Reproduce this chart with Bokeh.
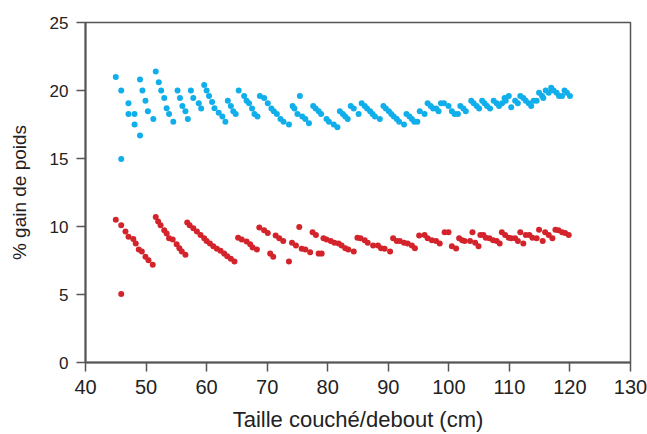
from bokeh.plotting import figure
from bokeh.models import Range1d, FixedTicker
from bokeh.embed import file_html
from bokeh.resources import INLINE

blue_x = [45.0, 45.9, 45.9, 47.1, 47.1, 48.1, 48.1, 49.0, 49.4, 49.9, 49.0, 50.3, 51.2, 51.6, 52.1, 52.5,
          53.0, 53.4, 53.8, 54.5, 55.2, 55.6, 56.0, 56.5, 56.9, 57.4, 57.8, 58.7, 59.1, 59.6, 60.0, 60.4,
          60.9, 61.3, 62.0, 62.6, 63.1, 63.5, 64.0, 64.4, 64.8, 65.3, 66.2, 66.6, 67.0, 67.5, 67.9, 68.4,
          68.8, 69.5, 70.1, 70.7, 71.1, 71.6, 72.2, 72.7, 73.6, 74.2, 74.5, 75.0, 75.4, 75.8, 76.3, 76.9,
          77.6, 78.0, 78.5, 78.9, 79.8, 80.2, 81.0, 81.6, 82.0, 82.5, 82.9, 83.3, 83.8, 84.3, 85.1, 85.6,
          86.1, 86.5, 87.0, 87.4, 87.8, 88.6, 89.2, 89.6, 90.1, 90.5, 90.9, 91.4, 91.8, 92.6, 93.0, 93.5,
          93.9, 94.3, 94.8, 95.2, 96.0, 96.5, 97.0, 97.4, 97.9, 98.3, 98.7, 99.2, 99.95, 100.5, 100.95, 101.5,
          101.9, 102.4, 102.8, 103.7, 104.1, 104.6, 105.0, 105.5, 105.9, 106.3, 106.8, 107.4, 107.9, 108.3,
          108.8, 109.2, 109.4, 109.9, 110.3, 110.95, 111.4, 111.8, 112.3, 112.7, 113.2, 113.6, 114.0, 114.5,
          114.9, 115.4, 115.6, 116.0, 116.5, 116.9, 117.3, 117.8, 118.2, 118.7, 119.1, 119.5, 120.0]
blue_y = [21.0, 20.0, 14.96, 19.06, 18.28, 18.28, 17.5, 20.8, 20.0, 19.25, 16.7, 18.47, 17.9, 21.4, 20.6, 20.0,
          19.45, 18.7, 18.28, 17.7, 20.0, 19.45, 18.86, 18.47, 17.9, 20.0, 19.45, 19.06, 18.67, 20.4, 20.0, 19.6,
          19.16, 18.7, 18.37, 18.08, 17.7, 19.25, 18.86, 18.47, 18.28, 20.0, 19.6, 19.25, 19.06, 18.67, 18.28, 18.08,
          19.6, 19.45, 19.06, 18.67, 18.47, 18.28, 17.9, 17.7, 17.5, 18.86, 18.67, 18.28, 19.6, 18.08, 17.9, 17.6,
          18.86, 18.67, 18.47, 18.28, 17.9, 17.7, 17.5, 17.3, 18.47, 18.28, 18.08, 17.9, 18.86, 18.67, 18.28, 19.06,
          18.86, 18.67, 18.47, 18.28, 18.08, 17.9, 18.86, 18.67, 18.47, 18.28, 18.08, 17.9, 17.7, 17.5, 18.28, 18.08,
          17.9, 17.7, 17.7, 18.47, 18.28, 19.06, 18.86, 18.67, 18.67, 18.47, 19.06, 19.06, 18.86, 18.47, 18.28, 18.28,
          18.86, 18.67, 18.47, 19.25, 19.06, 18.86, 18.67, 19.25, 19.06, 18.86, 18.67, 19.25, 19.06, 18.86,
          19.06, 19.45, 19.25, 19.6, 18.76, 19.25, 19.06, 19.6, 19.45, 19.25, 19.06, 18.86, 19.25, 19.25,
          19.84, 19.6, 19.45, 20.0, 19.84, 20.2, 20.0, 19.84, 19.6, 19.6, 20.0, 19.84, 19.6]

red_x = [45.0, 45.9, 45.9, 46.6, 47.1, 47.9, 48.3, 48.8, 49.3, 49.9, 50.4, 51.1, 51.6, 52.0, 52.4, 53.0,
         53.4, 53.8, 54.4, 55.05, 55.5, 55.9, 56.5, 56.8, 57.2, 57.8, 58.4, 59.0, 59.6, 60.0, 60.55, 61.1,
         61.7, 62.3, 62.9, 63.4, 64.0, 64.6, 65.2, 65.8, 66.6, 67.2, 67.6, 68.3, 68.7, 69.5, 70.1, 70.5,
         71.0, 71.4, 72.0, 72.65, 73.6, 74.1, 74.75, 75.3, 75.7, 76.3, 77.1, 77.5, 78.05, 78.5, 79.0, 79.3,
         79.8, 80.5, 81.1, 81.8, 82.3, 82.9, 83.4, 84.3, 84.9, 85.4, 86.1, 86.6, 87.5, 88.3, 88.8, 89.4,
         90.3, 90.8, 91.4, 91.9, 92.6, 93.2, 93.9, 94.4, 95.1, 96.0, 96.5, 97.2, 97.9, 98.5, 99.3, 99.95,
         100.5, 101.2, 101.7, 102.2, 102.6, 103.5, 103.9, 104.35, 104.9, 105.2, 105.7, 106.1, 106.7, 107.3,
         107.9, 108.4, 108.75, 109.3, 109.9, 110.3, 110.95, 111.4, 111.8, 112.3, 112.7, 113.3, 113.8, 114.5,
         114.9, 115.5, 115.9, 116.5, 117.1, 117.6, 118.1, 118.7, 119.2, 119.8]
red_y = [10.5, 10.1, 5.03, 9.63, 9.24, 9.09, 8.75, 8.31, 8.16, 7.77, 7.52, 7.18, 10.7, 10.36, 10.1, 9.72,
         9.48, 9.13, 9.04, 8.7, 8.4, 8.16, 7.92, 10.3, 10.1, 9.87, 9.63, 9.38, 9.13, 8.94, 8.75, 8.55,
         8.36, 8.21, 8.01, 7.82, 7.62, 7.43, 9.18, 9.04, 8.89, 8.7, 8.45, 8.31, 9.92, 9.72, 9.53, 8.01,
         7.77, 9.33, 9.13, 8.94, 7.43, 8.8, 8.6, 9.97, 8.36, 8.31, 8.11, 9.58, 9.38, 8.01, 8.01, 9.13,
         9.04, 8.94, 8.8, 8.75, 8.6, 8.4, 8.31, 8.16, 9.18, 9.13, 8.99, 8.8, 8.6, 8.6, 8.4, 8.36,
         8.16, 9.13, 8.94, 8.94, 8.8, 8.75, 8.6, 8.4, 9.33, 9.38, 9.13, 8.99, 8.94, 8.75, 9.58, 9.58,
         8.55, 8.38, 9.13, 8.99, 8.94, 8.94, 9.58, 8.8, 8.55, 9.38, 9.38, 9.18, 9.13, 8.99,
         8.94, 8.75, 9.58, 9.38, 9.18, 9.13, 9.13, 8.94, 9.58, 8.75, 9.38, 9.38, 9.18, 9.13,
         9.77, 8.94, 9.58, 9.38, 9.13, 9.77, 9.72, 9.58, 9.53, 9.38]

x_ticks = [40, 50, 60, 70, 80, 90, 100, 110, 120, 130]
y_ticks = [0, 5, 10, 15, 20, 25]

FONT = "Liberation Sans"
AXIS_COL = "#555555"
TEXT_COL = "#222222"

p = figure(width=647, height=434, output_backend="svg", toolbar_location=None,
           x_range=Range1d(40, 130), y_range=Range1d(0, 25),
           min_border_left=85, min_border_right=17, min_border_top=22, min_border_bottom=71)

p.scatter(blue_x, blue_y, size=6, color="#10AEEA", line_color=None)
p.scatter(red_x, red_y, size=6, color="#D3232B", line_color=None)

p.xgrid.visible = False
p.ygrid.visible = False
p.outline_line_color = AXIS_COL
p.outline_line_width = 1.5
p.outline_line_alpha = 1.0

p.xaxis.ticker = FixedTicker(ticks=x_ticks)
p.yaxis.ticker = FixedTicker(ticks=y_ticks)
p.xaxis.axis_label = "Taille couché/debout (cm)"
p.yaxis.axis_label = "% gain de poids"

for ax in (p.xaxis[0], p.yaxis[0]):
    ax.axis_line_color = AXIS_COL
    ax.axis_line_width = 2
    ax.major_tick_line_color = AXIS_COL
    ax.major_tick_line_width = 1.5
    ax.major_tick_in = 0
    ax.major_tick_out = 9
    ax.minor_tick_line_color = None
    ax.major_label_text_font = FONT
    ax.major_label_text_color = TEXT_COL
    ax.axis_label_text_font = FONT
    ax.axis_label_text_color = TEXT_COL
    ax.axis_label_text_font_style = "normal"

p.xaxis.major_label_text_font_size = "20px"
p.yaxis.major_label_text_font_size = "17px"
p.xaxis.axis_label_text_font_size = "22px"
p.yaxis.axis_label_text_font_size = "19px"
p.xaxis.major_label_standoff = 8
p.yaxis.major_label_standoff = 8
p.xaxis.axis_label_standoff = 10
p.yaxis.axis_label_standoff = 17

open("out.html", "w").write(file_html(p, INLINE))
